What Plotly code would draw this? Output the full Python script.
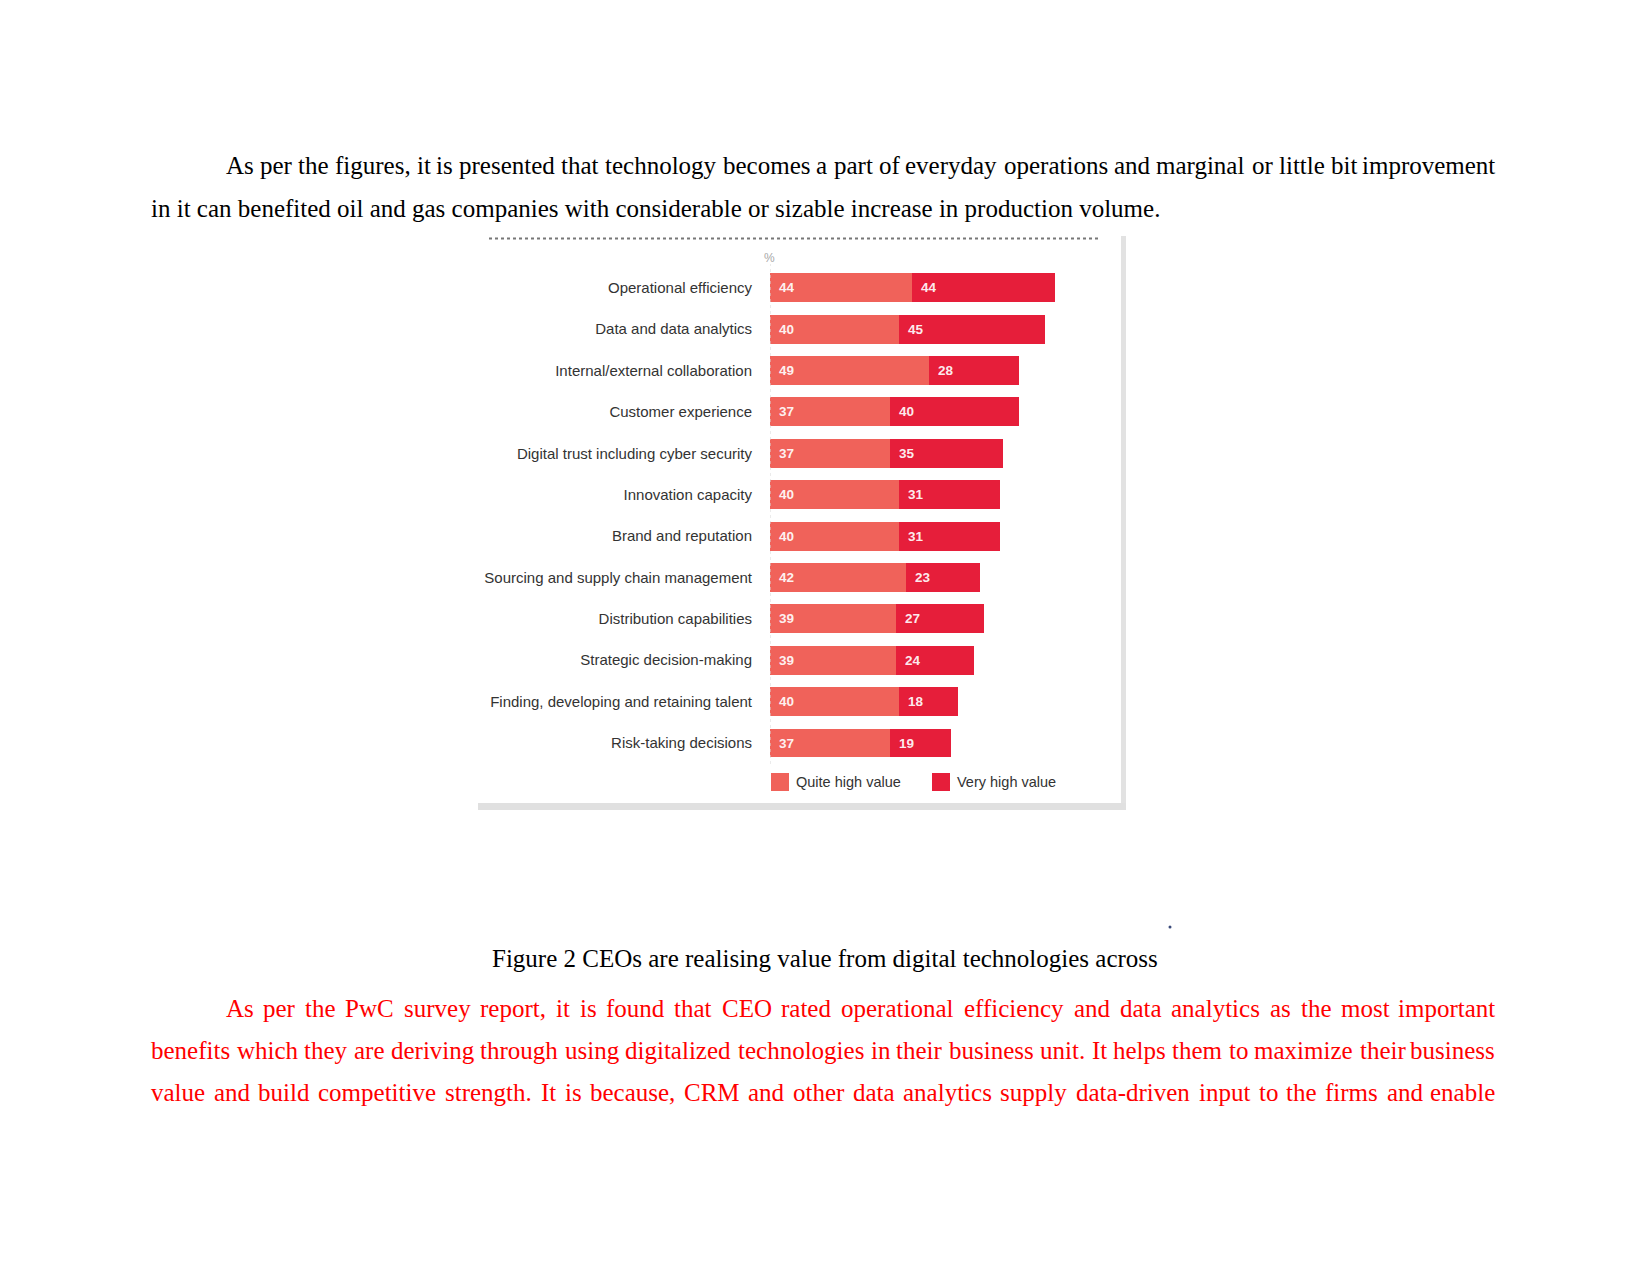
import plotly.graph_objects as go

# ---------------- data ----------------
categories = [
    "Operational efficiency",
    "Data and data analytics",
    "Internal/external collaboration",
    "Customer experience",
    "Digital trust including cyber security",
    "Innovation capacity",
    "Brand and reputation",
    "Sourcing and supply chain management",
    "Distribution capabilities",
    "Strategic decision-making",
    "Finding, developing and retaining talent",
    "Risk-taking decisions",
]
quite_high = [44, 40, 49, 37, 37, 40, 40, 42, 39, 39, 40, 37]
very_high = [44, 45, 28, 40, 35, 31, 31, 23, 27, 24, 18, 19]
series_names = ["Quite high value", "Very high value"]

para1 = [
    "As per the figures, it is presented that technology becomes a part of everyday operations and marginal or little bit improvement",
    "in it can benefited oil and gas companies with considerable or sizable increase in production volume.",
]
caption = "Figure 2 CEOs are realising value from digital technologies across"
para2 = [
    "As per the PwC survey report, it is found that CEO rated operational efficiency and data analytics as the most important",
    "benefits which they are deriving through using digitalized technologies in their business unit. It helps them to maximize their business",
    "value and build competitive strength. It is because, CRM and other data analytics supply data-driven input to the firms and enable",
]

# ---------------- style ----------------
W, H = 1650, 1275
OFF = 8  # default page body margin of the html page
C_LIGHT = "#F0625A"
C_DARK = "#E61E3A"
SERIF = "Liberation Serif, Times New Roman, serif"
SANS = "Liberation Sans, Arial, sans-serif"
BODY = 25


def px(x):
    return (x - OFF) / W


def py(y):
    return 1 - (y - OFF) / H


# Times / Liberation Serif advance widths (1/1000 em)
TW = {' ': 250, 'a': 444, 'b': 500, 'c': 444, 'd': 500, 'e': 444, 'f': 333, 'g': 500, 'h': 500,
      'i': 278, 'j': 278, 'k': 500, 'l': 278, 'm': 778, 'n': 500, 'o': 500, 'p': 500, 'q': 500,
      'r': 333, 's': 389, 't': 278, 'u': 500, 'v': 500, 'w': 722, 'x': 500, 'y': 500, 'z': 444,
      'A': 722, 'B': 667, 'C': 667, 'D': 722, 'E': 611, 'F': 556, 'G': 722, 'H': 722, 'I': 333,
      'J': 389, 'K': 722, 'L': 611, 'M': 889, 'N': 722, 'O': 722, 'P': 556, 'Q': 722, 'R': 667,
      'S': 556, 'T': 611, 'U': 722, 'V': 722, 'W': 944, 'X': 722, 'Y': 722, 'Z': 611,
      ',': 250, '.': 250, '-': 333, '/': 278, '(': 333, ')': 333}


def wwidth(word, size):
    return sum(TW.get(ch, 500) for ch in word) * size / 1000.0 * 1.005


annotations = []


def justified_line(text, x0, x1, y, color):
    words = text.split(" ")
    widths = [wwidth(w, BODY) for w in words]
    gap = (x1 - x0 - sum(widths)) / (len(words) - 1)
    x = x0
    for i, w in enumerate(words):
        last = i == len(words) - 1
        annotations.append(dict(x=px(x1 if last else x), y=py(y), xref="paper", yref="paper", text=w,
                                showarrow=False, xanchor="right" if last else "left", yanchor="middle",
                                borderpad=0, font=dict(family=SERIF, size=BODY, color=color)))
        x += widths[i] + gap


def plain_line(text, x, y, color, anchor="left"):
    annotations.append(dict(x=px(x), y=py(y), xref="paper", yref="paper", text=text,
                            showarrow=False, xanchor=anchor, yanchor="middle", borderpad=0,
                            font=dict(family=SERIF, size=BODY, color=color)))


# body text
justified_line(para1[0], 225, 1496, 165, "black")
plain_line(para1[1], 150, 208, "black")
plain_line(caption, 825, 958, "black", anchor="center")
justified_line(para2[0], 225, 1496, 1008, "#FF0000")
justified_line(para2[1], 150, 1496, 1050, "#FF0000")
justified_line(para2[2], 150, 1496, 1092, "#FF0000")

# ---------------- chart ----------------
fig = go.Figure()
fig.add_trace(go.Bar(y=categories, x=quite_high, orientation="h", name=series_names[0],
                     marker=dict(color=C_LIGHT, line=dict(width=0)), width=0.70,
                     hoverinfo="x+y"))
fig.add_trace(go.Bar(y=categories, x=very_high, orientation="h", name=series_names[1],
                     marker=dict(color=C_DARK, line=dict(width=0)), width=0.70,
                     hoverinfo="x+y"))

# value labels inside bars
for cat, q, v in zip(categories, quite_high, very_high):
    annotations.append(dict(x=0, y=cat, xref="x", yref="y", text=f"<b>{q}</b>", showarrow=False,
                            xanchor="left", yanchor="middle", xshift=8, borderpad=0,
                            font=dict(family=SANS, size=13.5, color="rgba(255,255,255,0.93)")))
    annotations.append(dict(x=q, y=cat, xref="x", yref="y", text=f"<b>{v}</b>", showarrow=False,
                            xanchor="left", yanchor="middle", xshift=8, borderpad=0,
                            font=dict(family=SANS, size=13.5, color="rgba(255,255,255,0.93)")))

# "%" unit label
annotations.append(dict(x=px(769), y=py(258), xref="paper", yref="paper", text="%",
                        showarrow=False, xanchor="center", yanchor="middle",
                        font=dict(family=SANS, size=12, color="#a8a8a8")))

# custom legend
leg = [(771, series_names[0], C_LIGHT), (932, series_names[1], C_DARK)]
shapes = []
for lx, name, col in leg:
    shapes.append(dict(type="rect", xref="paper", yref="paper", x0=px(lx), x1=px(lx + 18),
                       y0=py(791), y1=py(773), fillcolor=col, line=dict(width=0)))
    annotations.append(dict(x=px(lx + 24), y=py(782), xref="paper", yref="paper", text=name,
                            showarrow=False, xanchor="left", yanchor="middle", borderpad=0,
                            font=dict(family=SANS, size=14.5, color="#333333")))

# frame decorations of the embedded figure
shapes += [
    dict(type="line", xref="paper", yref="paper", x0=px(489), x1=px(1101), y0=py(238.5), y1=py(238.5),
         line=dict(color="#777777", width=2, dash="dot")),
    dict(type="rect", xref="paper", yref="paper", x0=px(1121), x1=px(1126), y0=py(810), y1=py(236),
         fillcolor="#e2e2e2", line=dict(width=0)),
    dict(type="rect", xref="paper", yref="paper", x0=px(478), x1=px(1126), y0=py(810), y1=py(803),
         fillcolor="#e0e0e0", line=dict(width=0)),
    dict(type="line", xref="x", yref="paper", x0=0, x1=0, y0=py(764), y1=py(264),
         line=dict(color="#d8d8d8", width=1, dash="dot")),
    dict(type="circle", xref="paper", yref="paper", x0=px(1168.5), x1=px(1171.5), y0=py(928.5), y1=py(925.5),
         fillcolor="#3a4a7a", line=dict(width=0)),
]

fig.update_layout(
    width=W, height=H,
    margin=dict(l=0, r=0, t=0, b=0),
    paper_bgcolor="white", plot_bgcolor="white",
    barmode="stack", bargap=0.3,
    showlegend=False,
    xaxis=dict(domain=[px(770), px(770 + 323.5)], range=[0, 100], visible=False, fixedrange=True),
    yaxis=dict(domain=[py(763.7), py(267.1)], type="category", categoryorder="array",
               categoryarray=categories, range=[11.5, -0.5], showgrid=False, zeroline=False,
               showline=False, ticks="", ticklabelstandoff=17,
               tickfont=dict(family=SANS, size=15, color="#333333")),
    annotations=annotations,
    shapes=shapes,
)

fig.write_html("out.html")
